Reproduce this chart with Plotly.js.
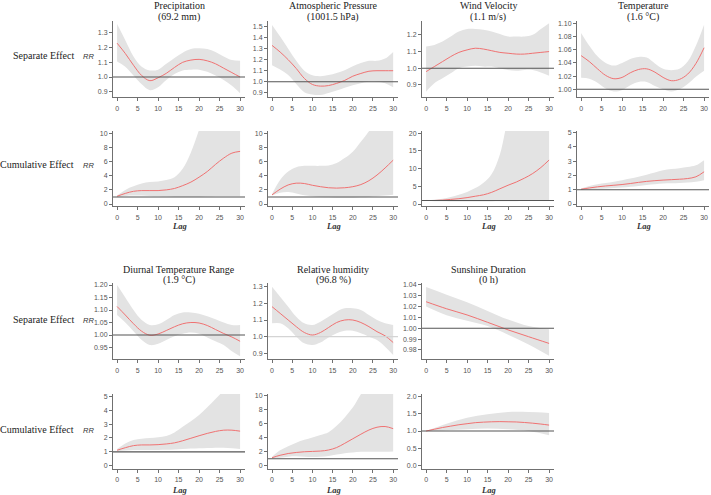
<!DOCTYPE html>
<html><head><meta charset="utf-8">
<script src="https://cdn.plot.ly/plotly-3.0.1.min.js"></script>
<style>html,body{margin:0;padding:0;background:#fff}#c{width:711px;height:495px}</style>
</head><body><div id="c"></div>
<script>
// ---------- data ----------
const LAG = [0,2,4,6,8,10,12,14,16,18,20,22,24,26,28,30];
const LAG5 = [0,5,10,15,20,25,30];

const titles1 = ["Precipitation","Atmospheric Pressure","Wind Velocity","Temperature","Diurnal Temperature Range","Relative humidity","Sunshine Duration"];
const titles2 = ["(69.2 mm)","(1001.5 hPa)","(1.1 m/s)","(1.6 \u00B0C)","(1.9 \u00B0C)","(96.8 %)","(0 h)"];
const rowLabels = ["Separate Effect","Cumulative Effect"];

const precipSepRR = [1.23,1.16,1.08,1.01,0.975,0.995,1.025,1.065,1.10,1.115,1.12,1.11,1.09,1.06,1.03,1.00];
const precipSepHi = [1.36,1.25,1.14,1.07,1.045,1.05,1.09,1.13,1.165,1.19,1.195,1.19,1.17,1.14,1.115,1.11];
const precipSepLo = [1.105,1.07,1.01,0.95,0.91,0.93,0.98,1.02,1.045,1.05,1.05,1.035,1.01,0.98,0.94,0.89];

const atmSepRR = [1.33,1.27,1.20,1.12,1.03,0.975,0.96,0.965,0.985,1.012,1.05,1.075,1.095,1.10,1.10,1.10];
const atmSepHi = [1.515,1.41,1.30,1.19,1.10,1.058,1.05,1.06,1.08,1.105,1.14,1.17,1.19,1.19,1.21,1.27];
const atmSepLo = [1.15,1.11,1.06,0.98,0.905,0.883,0.879,0.897,0.92,0.945,0.968,0.987,1.0,1.0,0.985,0.95];

const windSepRR = [0.98,1.01,1.04,1.07,1.095,1.11,1.12,1.115,1.105,1.095,1.09,1.085,1.085,1.09,1.095,1.10];
const windSepHi = [1.13,1.14,1.16,1.19,1.22,1.235,1.235,1.23,1.22,1.205,1.19,1.19,1.19,1.20,1.235,1.27];
const windSepLo = [0.86,0.91,0.94,0.97,1.0,1.01,1.015,1.01,1.01,1.0,0.99,0.985,0.99,0.99,0.975,0.955];

const tempSepRR = [1.051,1.042,1.031,1.021,1.016,1.018,1.025,1.030,1.031,1.026,1.018,1.013,1.015,1.023,1.039,1.063];
const tempSepHi = [1.0855,1.066,1.050,1.040,1.036,1.040,1.046,1.049,1.048,1.039,1.031,1.029,1.031,1.042,1.066,1.098];
const tempSepLo = [1.0175,1.016,1.010,1.001,0.9965,0.999,1.006,1.011,1.011,1.005,1.0,0.9965,1.0,1.008,1.019,1.028];

const precipCumRR = [1.1,1.5,1.8,1.9,1.9,1.9,2.0,2.2,2.6,3.1,3.8,4.6,5.6,6.5,7.2,7.45];
const precipCumHi = [1.2,2.0,2.5,2.9,3.1,3.2,3.4,3.8,5.0,7.3,10.5,14,18,22,25,27];
const precipCumLo = [1.0,1.15,1.2,1.2,1.15,1.1,1.05,1.0,1.0,1.0,1.0,1.05,1.1,1.1,1.1,1.1];

const atmCumRR = [1.3,2.1,2.7,2.95,2.9,2.65,2.45,2.3,2.25,2.3,2.45,2.75,3.3,4.1,5.1,6.2];
const atmCumHi = [1.4,3.4,4.6,5.2,5.4,5.4,5.4,5.45,5.8,6.5,7.4,8.8,10.3,12,14,16];
const atmCumLo = [1.2,1.6,1.7,1.5,1.25,1.1,1.0,0.95,0.9,0.9,0.9,0.95,1.0,1.1,1.2,1.3];

const windCumRR = [1.0,1.0,1.1,1.3,1.5,1.8,2.2,2.6,3.3,4.3,5.3,6.2,7.3,8.6,10.3,12.4];
const windCumHi = [1.1,1.2,1.5,2.0,2.6,3.4,4.5,6.0,8.5,14,24,30,35,40,45,50];
const windCumLo = [0.9,0.8,0.75,0.72,0.7,0.7,0.7,0.7,0.72,0.75,0.78,0.8,0.82,0.85,0.88,0.9];

const tempCumRR = [1.03,1.12,1.2,1.26,1.31,1.36,1.43,1.51,1.58,1.63,1.67,1.70,1.73,1.78,1.9,2.25];
const tempCumHi = [1.08,1.25,1.38,1.47,1.56,1.66,1.78,1.9,2.05,2.2,2.36,2.44,2.5,2.58,2.7,3.06];
const tempCumLo = [1.0,1.04,1.07,1.09,1.12,1.15,1.2,1.26,1.33,1.38,1.43,1.45,1.47,1.5,1.55,1.66];

const dtrSepRR = [1.114,1.08,1.045,1.015,0.999,1.004,1.018,1.033,1.045,1.05,1.048,1.038,1.022,1.006,0.992,0.975];
const dtrSepHi = [1.2,1.15,1.1,1.06,1.04,1.043,1.06,1.08,1.09,1.09,1.085,1.075,1.063,1.05,1.04,1.04];
const dtrSepLo = [1.08,1.05,1.015,0.98,0.96,0.965,0.98,0.995,1.005,1.01,1.005,0.99,0.975,0.96,0.935,0.915];

const rhSepRR = [1.18,1.14,1.10,1.06,1.025,1.01,1.025,1.055,1.085,1.10,1.10,1.085,1.06,1.03,1.005,0.965];
const rhSepHi = [1.30,1.24,1.18,1.12,1.08,1.07,1.09,1.12,1.15,1.17,1.17,1.16,1.13,1.10,1.08,1.07];
const rhSepLo = [1.08,1.08,1.05,1.0,0.96,0.95,0.965,0.995,1.02,1.035,1.035,1.02,1.0,0.98,0.94,0.89];

const sunSepRR = [1.0245,1.018,1.0123,1.0055,0.9985,0.9922,0.986];
const sunSepHi = [1.038,1.031,1.024,1.016,1.008,1.002,0.999];
const sunSepLo = [1.020,1.012,1.007,1.002,0.994,0.985,0.9745];

const dtrCumRR = [1.12,1.3,1.45,1.5,1.5,1.52,1.57,1.65,1.8,1.98,2.16,2.33,2.47,2.56,2.56,2.49];
const dtrCumHi = [1.2,1.6,1.85,1.95,2.0,2.05,2.15,2.4,2.8,3.2,3.65,4.2,4.8,5.4,6,6.5];
const dtrCumLo = [1.05,1.1,1.13,1.14,1.14,1.14,1.15,1.18,1.21,1.24,1.26,1.28,1.3,1.3,1.27,1.2];

const rhCumRR = [1.15,1.5,1.75,1.9,2.0,2.05,2.1,2.25,2.6,3.2,3.85,4.5,5.1,5.5,5.6,5.3];
const rhCumHi = [1.3,2.2,2.8,3.3,3.7,4.05,4.4,4.8,5.7,6.9,8.3,10.2,12,14,16,18];
const rhCumLo = [1.05,1.15,1.3,1.35,1.3,1.25,1.3,1.4,1.6,1.8,1.9,2.0,2.0,2.0,2.0,2.05];

const sunCumRR = [1.0,1.05,1.1,1.14,1.18,1.21,1.24,1.255,1.265,1.27,1.265,1.26,1.245,1.225,1.2,1.17];
const sunCumHi = [1.0,1.21,1.38,1.48,1.545,1.545,1.52];
const sunCumLo = [1.0,1.02,1.05,1.07,1.05,1.0,0.88];

// ---------- layout geometry ----------
const W = 711, H = 495;
const COLS = [[113,245],[268,398],[422,554],[577,709]];
const ROWS = [[21,97],[131,206],[283,359],[394,469]];
const fx = p => p / W, fy = p => 1 - p / H;

const panels = [
 {r:0,c:0,x:LAG,mid:precipSepRR,hi:precipSepHi,lo:precipSepLo,xl:LAG,yr:[0.864,1.381],dt:0.1,t0:0.9,fmt:'.1f'},
 {r:0,c:1,x:LAG,mid:atmSepRR,hi:atmSepHi,lo:atmSepLo,xl:LAG,yr:[0.861,1.552],dt:0.1,t0:0.9,fmt:'.1f'},
 {r:0,c:2,x:LAG,mid:windSepRR,hi:windSepHi,lo:windSepLo,xl:LAG,yr:[0.828,1.283],dt:0.1,t0:0.9,fmt:'.1f'},
 {r:0,c:3,x:LAG,mid:tempSepRR,hi:tempSepHi,lo:tempSepLo,xl:LAG,yr:[0.9883,1.1035],dt:0.02,t0:1.0,fmt:'.2f'},
 {r:1,c:0,x:LAG,mid:precipCumRR,hi:precipCumHi,lo:precipCumLo,xl:LAG,yr:[-0.28,10.33],dt:2,t0:0,fmt:'d',lag:true},
 {r:1,c:1,x:LAG,mid:atmCumRR,hi:atmCumHi,lo:atmCumLo,xl:LAG,yr:[-0.28,10.33],dt:2,t0:0,fmt:'d',lag:true},
 {r:1,c:2,x:LAG,mid:windCumRR,hi:windCumHi,lo:windCumLo,xl:LAG,yr:[-0.56,20.6],dt:5,t0:0,fmt:'d',lag:true},
 {r:1,c:3,x:LAG,mid:tempCumRR,hi:tempCumHi,lo:tempCumLo,xl:LAG,yr:[-0.14,5.1],dt:1,t0:0,fmt:'d',lag:true},
 {r:2,c:0,x:LAG,mid:dtrSepRR,hi:dtrSepHi,lo:dtrSepLo,xl:LAG,yr:[0.904,1.208],dt:0.05,t0:0.95,fmt:'.2f'},
 {r:2,c:1,x:LAG,mid:rhSepRR,hi:rhSepHi,lo:rhSepLo,xl:LAG,yr:[0.866,1.322],dt:0.1,t0:0.9,fmt:'.1f',light:true},
 {r:2,c:2,x:LAG5,mid:sunSepRR,hi:sunSepHi,lo:sunSepLo,xl:LAG5,yr:[0.9716,1.0418],dt:0.01,t0:0.98,fmt:'.2f'},
 {r:3,c:0,x:LAG,mid:dtrCumRR,hi:dtrCumHi,lo:dtrCumLo,xl:LAG,yr:[-0.23,5.16],dt:1,t0:0,fmt:'d',lag:true},
 {r:3,c:1,x:LAG,mid:rhCumRR,hi:rhCumHi,lo:rhCumLo,xl:LAG,yr:[-0.46,10.24],dt:2,t0:0,fmt:'d',lag:true},
 {r:3,c:2,x:LAG,mid:sunCumRR,hi:sunCumHi,lo:sunCumLo,xl:LAG5,yr:[-0.094,2.065],dt:0.5,t0:0,fmt:'.1f',lag:true}
];

const BAND = '#e3e3e3', RED = '#f07272', REF = '#555555', AX = '#707070', TXT = '#555555';
const SERIF = 'Liberation Serif, Times New Roman, serif';
const SANS = 'Liberation Sans, Arial, sans-serif';

const traces = [], shapes = [], annotations = [];
const layout = {width:W, height:H, margin:{l:0,r:0,t:0,b:0}, showlegend:false,
  paper_bgcolor:'#fff', plot_bgcolor:'#fff', shapes, annotations};

panels.forEach((p, i) => {
  const k = i + 1, sfx = k === 1 ? '' : String(k);
  const xa = 'x' + sfx, ya = 'y' + sfx;
  const [cl, cr] = COLS[p.c], [rt, rb] = ROWS[p.r];
  layout['xaxis' + sfx] = {domain:[fx(cl), fx(cr)], anchor:ya, range:[-1, 31.2],
    tick0:0, dtick:5, showgrid:false, zeroline:false, showline:true, linecolor:AX, linewidth:1,
    ticks:'outside', ticklen:3, tickcolor:AX, tickfont:{family:SANS, size:7, color:TXT},
    ticklabelstandoff:p.r === 3 ? 1 : 2, fixedrange:true};
  layout['yaxis' + sfx] = {domain:[fy(rb), fy(rt)], anchor:xa, range:p.yr,
    tick0:p.t0, dtick:p.dt, tickformat:p.fmt, showgrid:false, zeroline:false, showline:true,
    linecolor:AX, linewidth:1, ticks:'outside', ticklen:3, tickcolor:AX,
    tickfont:{family:SANS, size:7, color:TXT}, fixedrange:true};
  traces.push({x:p.xl, y:p.lo, xaxis:xa, yaxis:ya, type:'scatter', mode:'lines',
    line:{width:0, shape:'spline', color:BAND}, hoverinfo:'skip'});
  traces.push({x:p.xl, y:p.hi, xaxis:xa, yaxis:ya, type:'scatter', mode:'lines', fill:'tonexty',
    fillcolor:BAND, line:{width:0, shape:'spline', color:BAND}, hoverinfo:'skip'});
  shapes.push({type:'line', xref:xa + ' domain', yref:ya, x0:0, x1:1, y0:1, y1:1,
    line:{color:p.light ? '#d4d4d4' : REF, width:1.1}, layer:'above'});
  traces.push({x:p.x, y:p.mid, xaxis:xa, yaxis:ya, type:'scatter', mode:'lines',
    line:{width:1, shape:'spline', color:RED}});
  if (p.lag) {
    const ly = p.r === 3 ? 489.5 : rb + 20;
    annotations.push({xref:'paper', yref:'paper', x:fx((cl + cr) / 2), y:fy(ly),
      text:'<b><i>Lag</i></b>', showarrow:false, font:{family:SERIF, size:8.5, color:'#333'},
      xanchor:'center', yanchor:'middle', borderpad:0});
  }
});

// titles
const titleCols = [0,1,2,3,0,1,2];
const titleTop = [6, 6, 6, 6, 269, 269, 269];
titles1.forEach((t, i) => {
  const [cl, cr] = COLS[titleCols[i]];
  const cx = fx((cl + cr) / 2);
  annotations.push({xref:'paper', yref:'paper', x:cx, y:fy(titleTop[i]), text:t, showarrow:false,
    font:{family:SERIF, size:10, color:'#222'}, xanchor:'center', yanchor:'middle'});
  annotations.push({xref:'paper', yref:'paper', x:cx, y:fy(titleTop[i] + 11), text:titles2[i], showarrow:false,
    font:{family:SERIF, size:10, color:'#222'}, xanchor:'center', yanchor:'middle'});
});

// row labels
const rowY = [55, 165, 319, 429];
rowY.forEach((yy, j) => {
  annotations.push({xref:'paper', yref:'paper', x:fx(75), y:fy(yy), text:rowLabels[j % 2], showarrow:false,
    font:{family:SERIF, size:10, color:'#222'}, xanchor:'right', yanchor:'middle', borderpad:0});
  annotations.push({xref:'paper', yref:'paper', x:fx(81), y:fy(yy + 1), text:'<i>RR</i>', showarrow:false,
    font:{family:SANS, size:7.5, color:'#333'}, xanchor:'left', yanchor:'middle'});
});

Plotly.newPlot('c', traces, layout, {staticPlot:true, displayModeBar:false});
</script></body></html>
